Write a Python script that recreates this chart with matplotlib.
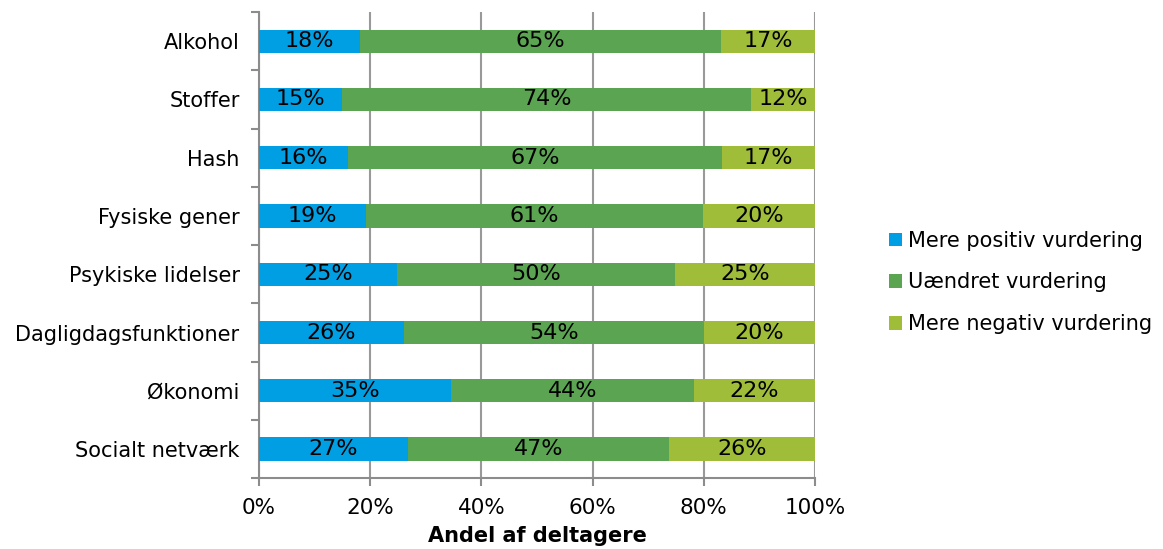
import numpy as np
import matplotlib
matplotlib.use("Agg")
import matplotlib.pyplot as plt

categories = ["Alkohol", "Stoffer", "Hash", "Fysiske gener", "Psykiske lidelser",
              "Dagligdagsfunktioner", "Økonomi", "Socialt netværk"]
positiv = [18.2, 14.9, 16.0, 19.2, 24.8, 26.1, 34.6, 26.8]
uaendret = [64.9, 73.6, 67.3, 60.6, 50.0, 54.0, 43.7, 46.9]
negativ = [16.9, 11.5, 16.7, 20.2, 25.2, 19.9, 21.7, 26.3]
series_names = ["Mere positiv vurdering", "Uændret vurdering", "Mere negativ vurdering"]
colors = ["#009FE3", "#5BA552", "#A0BD3A"]

plt.rcParams['font.family'] = ['DejaVu Sans']
fs = 15

fig = plt.figure(figsize=(11.63, 5.49), dpi=100)
ax = fig.add_axes([0.2227, 0.129, 0.478, 0.849])

y = np.arange(len(categories))
left = np.zeros(len(categories))
for vals, name, c in zip([positiv, uaendret, negativ], series_names, colors):
    vals = np.array(vals)
    ax.barh(y, vals, left=left, height=0.4, color=c, label=name, zorder=3)
    for yi, l, v in zip(y, left, vals):
        ax.text(l + v / 2, yi, f"{round(v):.0f}%", ha="center", va="center",
                fontsize=16, color="black", zorder=4)
    left += vals

ax.set_xlim(0, 100)
ax.set_ylim(len(categories) - 0.5, -0.5)
ax.set_xticks(np.arange(0, 101, 20))
ax.set_xticklabels([f"{t}%" for t in range(0, 101, 20)], fontsize=15.5)
ax.set_yticks(y)
ax.set_yticklabels(categories, fontsize=fs)
ax.set_yticks(np.arange(-0.5, len(categories), 1), minor=True)
ax.tick_params(axis="y", which="major", length=0, pad=14)
ax.tick_params(axis="y", which="minor", length=6, color="#8c8c8c", width=1.5)
ax.tick_params(axis="x", length=6, color="#8c8c8c", width=1.5, pad=8)
ax.grid(axis="x", color="#999999", linewidth=1.5, zorder=0)
for s in ["top", "right"]:
    ax.spines[s].set_visible(False)
for s in ["left", "bottom"]:
    ax.spines[s].set_color("#8c8c8c")
    ax.spines[s].set_linewidth(1.5)
ax.set_xlabel("Andel af deltagere", fontsize=fs, fontweight="bold", labelpad=6)

leg = ax.legend(loc="center left", bbox_to_anchor=(1.1, 0.42), frameon=False,
                fontsize=fs, handlelength=0.6, handleheight=0.6, handletextpad=0.3,
                labelspacing=1.05)

fig.savefig("out.png", dpi=100)
